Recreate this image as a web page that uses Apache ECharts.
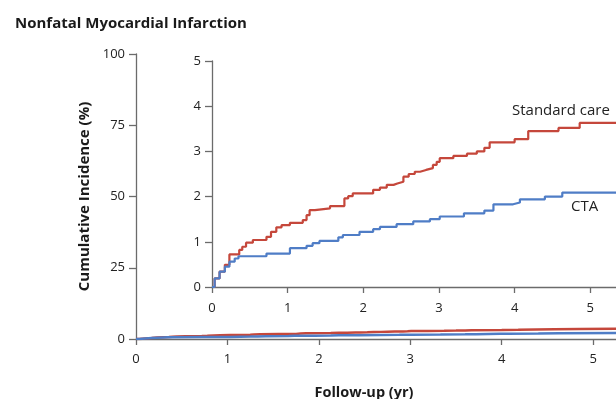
<!DOCTYPE html>
<html>
<head>
<meta charset="utf-8">
<script src="https://cdn.jsdelivr.net/npm/echarts@6/dist/echarts.min.js"></script>
<style>
html,body{margin:0;padding:0;background:#fff;}
#c{width:616px;height:399px;}
</style>
</head>
<body>
<div id="c"></div>
<script>
// Standard care (red) cumulative incidence, %
var stdTime = [0, 0.035, 0.1, 0.17, 0.23, 0.36, 0.4, 0.45, 0.54, 0.72, 0.78, 0.85, 0.92, 1.03, 1.2, 1.25, 1.29, 1.36, 1.56, 1.75, 1.8, 1.86, 2.13, 2.22, 2.31, 2.4, 2.45, 2.53, 2.6, 2.68, 2.75, 2.83, 2.92, 2.97, 3.01, 3.19, 3.37, 3.5, 3.6, 3.67, 4.0, 4.18, 4.58, 4.86, 5.34];
var stdValue = [0, 0.19, 0.34, 0.49, 0.72, 0.82, 0.89, 0.98, 1.04, 1.11, 1.22, 1.32, 1.37, 1.42, 1.48, 1.59, 1.7, 1.74, 1.79, 1.96, 2.01, 2.07, 2.15, 2.2, 2.26, 2.29, 2.33, 2.44, 2.5, 2.55, 2.59, 2.63, 2.7, 2.77, 2.85, 2.9, 2.95, 3.0, 3.08, 3.2, 3.27, 3.45, 3.52, 3.63, 3.63];
// CTA (blue)
var ctaTime = [0, 0.035, 0.1, 0.17, 0.23, 0.3, 0.35, 0.72, 1.03, 1.25, 1.33, 1.42, 1.67, 1.73, 1.95, 2.13, 2.22, 2.44, 2.66, 2.88, 3.01, 3.33, 3.6, 3.72, 3.98, 4.07, 4.4, 4.63, 5.34];
var ctaValue = [0, 0.19, 0.34, 0.45, 0.56, 0.63, 0.68, 0.74, 0.86, 0.91, 0.97, 1.02, 1.1, 1.15, 1.22, 1.28, 1.33, 1.39, 1.45, 1.5, 1.56, 1.63, 1.69, 1.83, 1.87, 1.94, 2.0, 2.09, 2.09];

var mainYTicks = [0, 25, 50, 75, 100];
var insetYTicks = [0, 1, 2, 3, 4, 5];
var xTicks = [0, 1, 2, 3, 4, 5];

var title = 'Nonfatal Myocardial Infarction';
var yName = 'Cumulative Incidence (%)';
var xName = 'Follow-up (yr)';
var stdLabel = 'Standard care';
var ctaLabel = 'CTA';

function pairs(t, v) { return t.map(function (x, i) { return [x, v[i]]; }); }

var RED = '#c5473b';
var BLUE = '#4f7dc6';
var AX = '#6b6b6b';
var FONT = '"Open Sans"';
var TXT = '#222';

function xAxis(gi, max, margin) {
  return {
    type: 'value', gridIndex: gi, min: 0, max: max, interval: 1,
    axisLine: { show: true, onZero: false, lineStyle: { color: AX, width: 1.3 } },
    axisTick: { show: true, length: 6, inside: false, lineStyle: { color: AX, width: 1.3 },
      customValues: xTicks },
    axisLabel: { show: true, margin: margin, color: TXT, fontSize: 13, fontFamily: FONT,
      customValues: xTicks },
    splitLine: { show: false }
  };
}

var chart = echarts.init(document.getElementById('c'), null, { renderer: 'canvas' });
chart.setOption({
  animation: false,
  backgroundColor: '#fff',
  title: {
    text: title, left: 10, top: 11,
    textStyle: { fontFamily: FONT, fontWeight: 'bold', fontSize: 15, color: '#1a1a1a' }
  },
  grid: [
    { left: 136, top: 54, right: 0, bottom: 60, containLabel: false, outerBoundsMode: 'none' },
    { left: 212, top: 61, right: 0, bottom: 112, containLabel: false, outerBoundsMode: 'none' }
  ],
  xAxis: [
    Object.assign(xAxis(0, 5.25, 14), {
      name: xName, nameLocation: 'middle', nameGap: 46,
      nameTextStyle: { fontFamily: FONT, fontWeight: 'bold', fontSize: 14.5, color: '#1a1a1a',
        padding: [0, 24, 0, 0] }
    }),
    xAxis(1, 5.34, 15)
  ],
  yAxis: [
    {
      type: 'value', gridIndex: 0, min: 0, max: 100, interval: 25,
      name: yName, nameLocation: 'middle', nameGap: 44, nameRotate: 90,
      nameTextStyle: { fontFamily: FONT, fontWeight: 'bold', fontSize: 15, color: '#1a1a1a' },
      axisLine: { show: true, lineStyle: { color: AX, width: 1.3 } },
      axisTick: { show: true, length: 7, lineStyle: { color: AX, width: 1.3 }, customValues: mainYTicks },
      axisLabel: { margin: 11, color: TXT, fontSize: 13, fontFamily: FONT, customValues: mainYTicks },
      splitLine: { show: false }
    },
    {
      type: 'value', gridIndex: 1, min: 0, max: 5, interval: 1,
      axisLine: { show: true, lineStyle: { color: AX, width: 1.3 } },
      axisTick: { show: true, length: 7, lineStyle: { color: AX, width: 1.3 }, customValues: insetYTicks },
      axisLabel: { margin: 11, color: TXT, fontSize: 13, fontFamily: FONT, customValues: insetYTicks },
      splitLine: { show: false }
    }
  ],
  series: [
    { type: 'line', xAxisIndex: 0, yAxisIndex: 0, step: 'end', showSymbol: false, symbol: 'none',
      data: pairs(stdTime, stdValue), lineStyle: { color: RED, width: 2.5 }, z: 3 },
    { type: 'line', xAxisIndex: 0, yAxisIndex: 0, step: 'end', showSymbol: false, symbol: 'none',
      data: pairs(ctaTime, ctaValue), lineStyle: { color: BLUE, width: 2.5 }, z: 4 },
    { type: 'line', xAxisIndex: 1, yAxisIndex: 1, step: 'end', showSymbol: false, symbol: 'none',
      data: pairs(stdTime, stdValue), lineStyle: { color: RED, width: 2.2 }, z: 3 },
    { type: 'line', xAxisIndex: 1, yAxisIndex: 1, step: 'end', showSymbol: false, symbol: 'none',
      data: pairs(ctaTime, ctaValue), lineStyle: { color: BLUE, width: 2.2 }, z: 4 }
  ],
  graphic: [
    { type: 'text', left: 512, top: 103, style: { text: stdLabel, font: '15px ' + FONT, fill: TXT } },
    { type: 'text', left: 571, top: 199, style: { text: ctaLabel, font: '15px ' + FONT, fill: TXT } }
  ]
});
</script>
</body>
</html>
